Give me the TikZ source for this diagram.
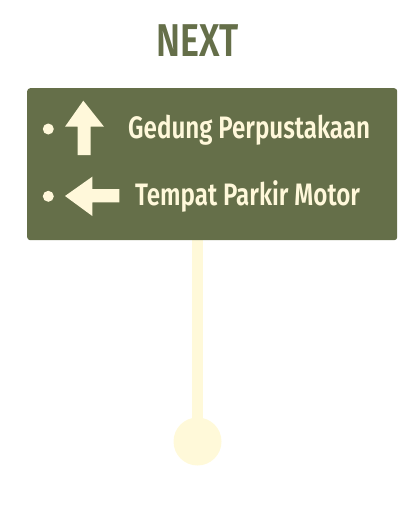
\documentclass[tikz,border=0pt]{standalone}
\usepackage{fontspec}
\setmainfont{Fira Sans}[FakeStretch=0.78, BoldFont={Fira Sans SemiBold}]
\usepackage{tikz}
\definecolor{signgreen}{RGB}{101,111,73}
\definecolor{signcream}{RGB}{255,248,218}
\definecolor{polecream}{RGB}{255,249,217}
\tikzset{
	signtext/.style={text=signcream, font=\bfseries\fontsize{31}{31}\selectfont, inner sep=0pt, anchor=base west},
	bulletdot/.style={fill=signcream, draw=none},
}

\begin{document}
\begin{tikzpicture}[x=1pt, y=-1pt]
				\useasboundingbox (0, 0) rectangle (418, 519);
				% Pole and foot:
				\fill[polecream] (192, 238) rectangle (203, 425);
				\node[circle, fill=polecream, minimum size=48pt, inner sep=0pt](Foot) at (197.5, 441.5){};
				% Sign board:
				\node[shape=rectangle, rounded corners=3pt, fill=signgreen, minimum width=370pt, minimum height=152pt, anchor=north west](Board) at (27, 88){};
				\node[text=signgreen, font=\bfseries\fontsize{46}{46}\selectfont, inner sep=0pt, anchor=base](Title) at (197.5, 56.5){NEXT};
				% Rows:
				\fill[bulletdot] (48.3, 129) circle (5.5);
				\fill[signcream] (83.3, 100.7) -- (104, 126.7) -- (90.7, 126.7) -- (90.7, 155) -- (77.7, 155) -- (77.7, 126.7) -- (65, 126.7) -- cycle;
				\node[signtext](Row1) at (128, 138){Gedung Perpustakaan};
				\fill[bulletdot] (48.3, 196.3) circle (5.5);
				\fill[signcream] (65, 196) -- (92.3, 176.7) -- (92.3, 189) -- (119.3, 189) -- (119.3, 202.3) -- (92.3, 202.3) -- (92.3, 216) -- cycle;
				\node[signtext](Row2) at (135, 205){Tempat Parkir Motor};
			\end{tikzpicture}
\end{document}
